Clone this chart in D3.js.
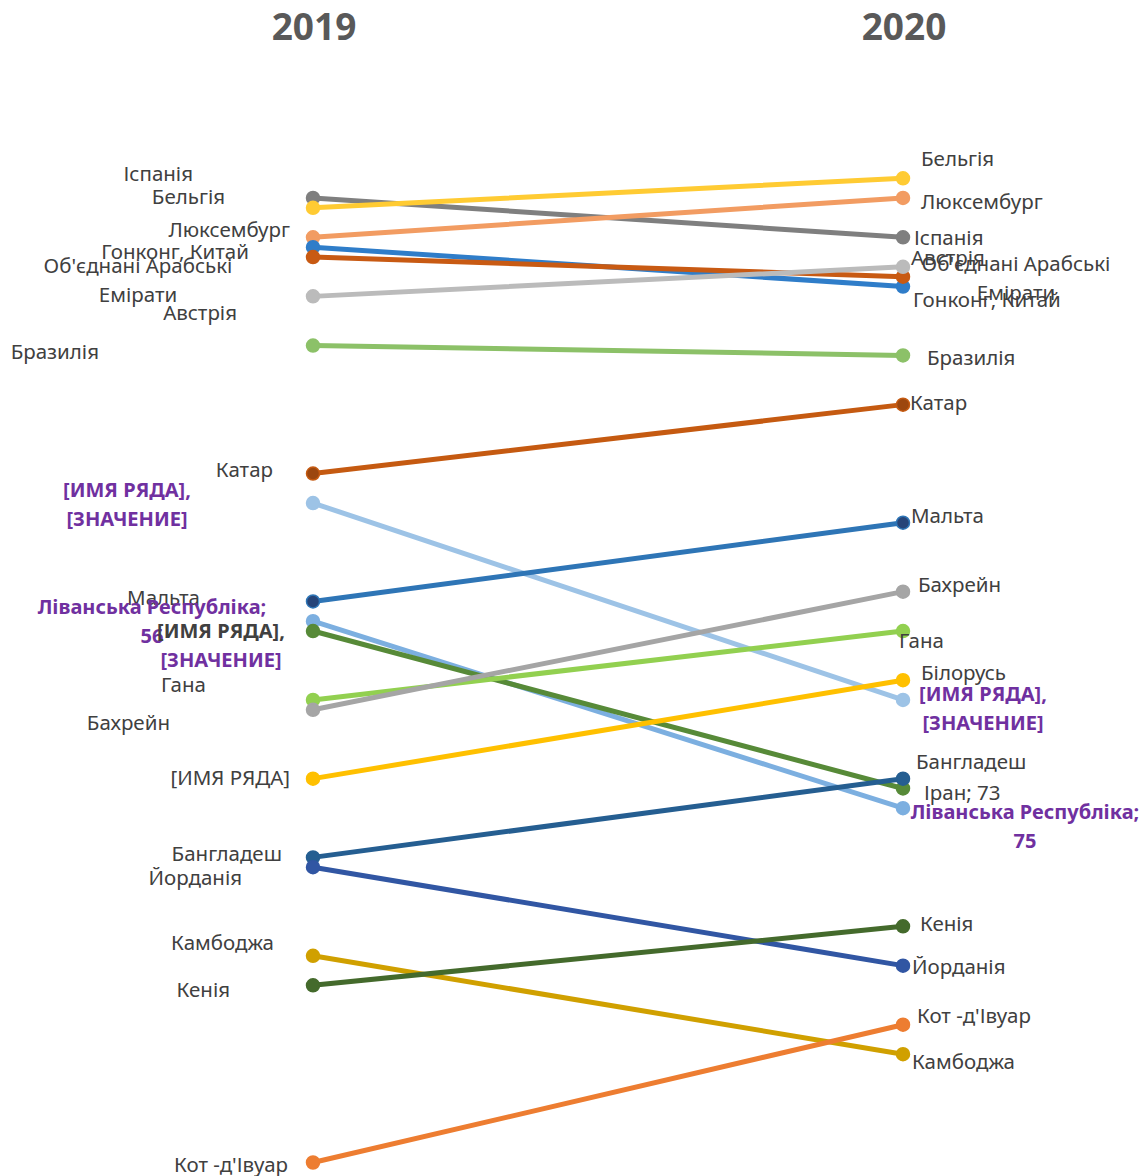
<!DOCTYPE html>
<html>
<head>
<meta charset="utf-8">
<script src="https://cdn.jsdelivr.net/npm/d3@7"></script>
<style>
  html, body { margin: 0; padding: 0; background: #ffffff; }
  svg { display: block; }
  .lbl { font-family: "Noto Sans", sans-serif; font-size: 20.5px; fill: #404040; }
  .lbl.purple { fill: #7030A0; font-weight: bold; font-size: 20px; }
  .lbl.dark { fill: #404040; font-weight: bold; font-size: 20px; }
  .year { font-family: "Noto Sans", sans-serif; font-size: 37px; font-weight: bold; fill: #595959; }
</style>
</head>
<body>
<script>
// Years shown as the two columns of the slope chart
const years = ["2019", "2020"];

// Countries (series), in drawing order
const countries = [
  "Іспанія", "Бельгія", "Люксембург", "Гонконг, Китай", "Об'єднані Арабські Емірати",
  "Австрія", "Бразилія", "Катар", "[ИМЯ РЯДА]", "Мальта",
  "Ліванська Республіка", "Іран", "Гана", "Бахрейн", "Білорусь",
  "Бангладеш", "Йорданія", "Камбоджа", "Кенія", "Кот -д'Івуар"
];

// Rank in each year
const rank2019 = [13, 14, 17, 18, 19, 23, 28, 41, 44, 54, 56, 57, 64, 65, 72, 80, 81, 90, 93, 111];
const rank2020 = [17, 11, 13, 22, 21, 20, 29, 34, 64, 46, 75, 73, 57, 53, 62, 72, 91, 100, 87, 97];

// Label text at each end; each label is a list of [line, style]
const labels2019 = [
  [["Іспанія", ""]], [["Бельгія", ""]], [["Люксембург", ""]], [["Гонконг, Китай", ""]],
  [["Об'єднані Арабські", ""], ["Емірати", ""]],
  [["Австрія", ""]], [["Бразилія", ""]], [["Катар", ""]],
  [["[ИМЯ РЯДА],", "purple"], ["[ЗНАЧЕНИЕ]", "purple"]],
  [["Мальта", ""]],
  [["Ліванська Республіка;", "purple"], ["56", "purple"]],
  [["[ИМЯ РЯДА],", "dark"], ["[ЗНАЧЕНИЕ]", "purple"]],
  [["Гана", ""]], [["Бахрейн", ""]], [["[ИМЯ РЯДА]", ""]],
  [["Бангладеш", ""]], [["Йорданія", ""]], [["Камбоджа", ""]], [["Кенія", ""]], [["Кот -д'Івуар", ""]]
];
const labels2020 = [
  [["Іспанія", ""]], [["Бельгія", ""]], [["Люксембург", ""]], [["Гонконг, Китай", ""]],
  [["Об'єднані Арабські", ""], ["Емірати", ""]],
  [["Австрія", ""]], [["Бразилія", ""]], [["Катар", ""]],
  [["[ИМЯ РЯДА],", "purple"], ["[ЗНАЧЕНИЕ]", "purple"]],
  [["Мальта", ""]],
  [["Ліванська Республіка;", "purple"], ["75", "purple"]],
  [["Іран; 73", ""]],
  [["Гана", ""]], [["Бахрейн", ""]], [["Білорусь", ""]],
  [["Бангладеш", ""]], [["Йорданія", ""]], [["Камбоджа", ""]], [["Кенія", ""]], [["Кот -д'Івуар", ""]]
];

// Line colours and marker fills per series
const lineColors = [
  "#7f7f7f", "#ffcb33", "#f29c62", "#2f7dc9", "#c85a13",
  "#bbbbbb", "#8cc168", "#c55a11", "#9dc3e6", "#2e75b6",
  "#7cafe0", "#578a38", "#92d050", "#a5a5a5", "#ffc000",
  "#255e91", "#3156a3", "#d0a000", "#446a2c", "#ed7d31"
];
const markerFills = lineColors.slice();
markerFills[7] = "#9c470f";
markerFills[9] = "#264478";

// Label placement: [anchor, dx, dy] relative to the marker, per end
const place2019 = [
  ["end", -120, -25], ["end", -88, -12], ["end", -23, -8], ["end", -64, 4],
  ["middle", -175, 8], ["end", -76, 16], ["end", -214, 5], ["end", -40, -5],
  ["middle", -186, -14], ["end", -113, -4], ["middle", -161, -15], ["middle", -92, -1],
  ["end", -107, -16], ["end", -143, 12], ["end", -23, -2], ["end", -31, -4],
  ["end", -71, 10], ["end", -39, -14], ["end", -83, 4], ["end", -25, 1]
];
const place2020 = [
  ["start", 11, 0], ["start", 18, -20], ["start", 18, 3], ["start", 10, 12],
  ["middle", 113, -14], ["start", 8, -10], ["start", 24, 2], ["start", 7, -3],
  ["middle", 80, -6], ["start", 8, -8], ["middle", 122, 3], ["start", 21, 4],
  ["start", -4, 9], ["start", 15, -8], ["start", 18, -8], ["start", 13, -18],
  ["start", 9, 0], ["start", 9, 7], ["start", 17, -3], ["start", 14, -10]
];

const W = 1146, H = 1176;
const svg = d3.select("body").append("svg").attr("width", W).attr("height", H);

const x = d3.scalePoint().domain(years).range([313, 903]);
const y = d3.scaleLinear().domain([0, 111]).range([70, 1162.5]);

const series = countries.map((name, i) => ({
  name, i,
  values: [rank2019[i], rank2020[i]],
  color: lineColors[i], fill: markerFills[i]
}));

// Year headings
svg.selectAll("text.year").data(years).join("text")
  .attr("class", "year")
  .attr("x", d => x(d) + 1)
  .attr("y", 40)
  .attr("text-anchor", "middle")
  .text(d => d);

const line = d3.line().x((d, k) => x(years[k])).y(d => y(d));

const g = svg.selectAll("g.series").data(series).join("g").attr("class", "series");

g.append("path")
  .attr("d", d => line(d.values))
  .attr("fill", "none")
  .attr("stroke", d => d.color)
  .attr("stroke-width", 5)
  .attr("stroke-linecap", "round");

g.selectAll("circle").data(d => d.values.map((v, k) => ({ v, k, s: d }))).join("circle")
  .attr("cx", d => x(years[d.k]))
  .attr("cy", d => y(d.v))
  .attr("r", 6.5)
  .attr("fill", d => d.s.fill)
  .attr("stroke", d => d.s.color)
  .attr("stroke-width", 1.5);

// Data labels
const labelLayer = svg.append("g");
function drawLabels(labels, places, k) {
  series.forEach((s, i) => {
    const [anchor, dx, dy] = places[i];
    const lines = labels[i];
    const lh = 29;
    const t = labelLayer.append("text")
      .attr("text-anchor", anchor)
      .attr("class", "lbl")
      .attr("x", x(years[k]) + dx)
      .attr("y", y(s.values[k]) + dy);
    lines.forEach((ln, j) => {
      t.append("tspan")
        .attr("class", "lbl " + ln[1])
        .attr("x", x(years[k]) + dx)
        .attr("y", y(s.values[k]) + dy + j * lh)
        .attr("dominant-baseline", "central")
        .text(ln[0]);
    });
  });
}
drawLabels(labels2019, place2019, 0);
drawLabels(labels2020, place2020, 1);
</script>
</body>
</html>
